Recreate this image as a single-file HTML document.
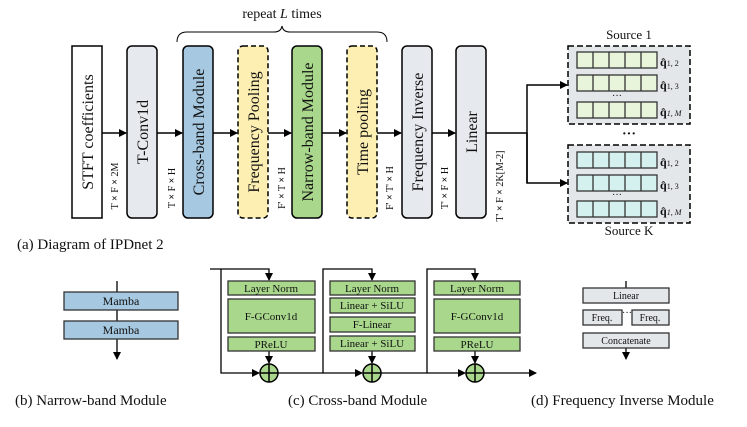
<!DOCTYPE html>
<html><head><meta charset="utf-8"><style>
html,body{margin:0;padding:0;background:#fff}
svg{display:block}
text{font-family:"Liberation Serif",serif;fill:#111}
</style></head><body>
<svg width="747" height="427" viewBox="0 0 747 427" xmlns="http://www.w3.org/2000/svg">
<defs>
<marker id="ah" markerWidth="8" markerHeight="8" refX="7" refY="4" orient="auto" markerUnits="userSpaceOnUse"><path d="M0,0 L8,4 L0,8 z" fill="#000"/></marker>
</defs>

<text x="282" y="18" font-size="14" text-anchor="middle">repeat <tspan font-style="italic">L</tspan> times</text>
<path d="M177,42 Q177,32 187,32 L274,32 Q281,32 282,26 Q283,32 290,32 L377,32 Q387,32 387,42" fill="none" stroke="#000" stroke-width="1"/>

<rect x="72" y="46" width="30" height="172" fill="#fff" stroke="#000" stroke-width="1.5"/>
<rect x="127" y="46" width="30" height="172" rx="5" fill="#e6e9ed" stroke="#000" stroke-width="1.5"/>
<rect x="183" y="46" width="30" height="172" rx="5" fill="#a6c8e0" stroke="#000" stroke-width="1.5"/>
<rect x="238" y="46" width="30" height="172" rx="5" fill="#fdefb2" stroke="#000" stroke-width="1.5" stroke-dasharray="5,3"/>
<rect x="292" y="46" width="30" height="172" rx="5" fill="#a9d88c" stroke="#000" stroke-width="1.5"/>
<rect x="347" y="46" width="30" height="172" rx="5" fill="#fdefb2" stroke="#000" stroke-width="1.5" stroke-dasharray="5,3"/>
<rect x="402" y="46" width="30" height="172" rx="5" fill="#e6e9ed" stroke="#000" stroke-width="1.5"/>
<rect x="456" y="46" width="30" height="172" rx="5" fill="#e6e9ed" stroke="#000" stroke-width="1.5"/>

<g font-size="16">
<text transform="translate(93,132) rotate(-90)" text-anchor="middle">STFT coefficients</text>
<text transform="translate(148,132) rotate(-90)" text-anchor="middle">T-Conv1d</text>
<text transform="translate(204,132) rotate(-90)" text-anchor="middle">Cross-band Module</text>
<text transform="translate(259,132) rotate(-90)" text-anchor="middle">Frequency Pooling</text>
<text transform="translate(313,132) rotate(-90)" text-anchor="middle">Narrow-band Module</text>
<text transform="translate(368,132) rotate(-90)" text-anchor="middle">Time pooling</text>
<text transform="translate(423,132) rotate(-90)" text-anchor="middle">Frequency Inverse</text>
<text transform="translate(477,132) rotate(-90)" text-anchor="middle">Linear</text>
</g>

<g stroke="#000" stroke-width="1.5" marker-end="url(#ah)">
<line x1="102" y1="133" x2="126" y2="133"/>
<line x1="157" y1="133" x2="182" y2="133"/>
<line x1="213" y1="133" x2="237" y2="133"/>
<line x1="268" y1="133" x2="291" y2="133"/>
<line x1="322" y1="133" x2="346" y2="133"/>
<line x1="377" y1="133" x2="401" y2="133"/>
<line x1="432" y1="133" x2="455" y2="133"/>
</g>
<g font-size="10">
<text transform="translate(118,186) rotate(-90)" text-anchor="middle">T <tspan font-weight="bold">×</tspan> F <tspan font-weight="bold">×</tspan> 2M</text>
<text transform="translate(175,188) rotate(-90)" text-anchor="middle">T <tspan font-weight="bold">×</tspan> F <tspan font-weight="bold">×</tspan> H</text>
<text transform="translate(285,188) rotate(-90)" text-anchor="middle">F' <tspan font-weight="bold">×</tspan> T <tspan font-weight="bold">×</tspan> H</text>
<text transform="translate(393,188) rotate(-90)" text-anchor="middle">F' <tspan font-weight="bold">×</tspan> T' <tspan font-weight="bold">×</tspan> H</text>
<text transform="translate(448,188) rotate(-90)" text-anchor="middle">T' <tspan font-weight="bold">×</tspan> F <tspan font-weight="bold">×</tspan> H</text>
<text transform="translate(503,186) rotate(-90)" text-anchor="middle">T' <tspan font-weight="bold">×</tspan> F <tspan font-weight="bold">×</tspan> 2K[M-2]</text>
</g>

<polyline points="486,133 527,133" fill="none" stroke="#000" stroke-width="1.5"/>
<polyline points="527,183 527,85 567,85" fill="none" stroke="#000" stroke-width="1.5" marker-end="url(#ah)"/>
<polyline points="527,133 527,183 567,183" fill="none" stroke="#000" stroke-width="1.5" marker-end="url(#ah)"/>

<text x="629" y="39" font-size="13" text-anchor="middle">Source 1</text>
<rect x="568" y="46" width="122" height="78" fill="#e4e7ea" stroke="#000" stroke-width="1.5" stroke-dasharray="6,3"/>
<g fill="#e9f5da" stroke="#333" stroke-width="1.3">
<rect x="577" y="52" width="80" height="16"/><rect x="577" y="75" width="80" height="16"/><rect x="577" y="102" width="80" height="16"/>
</g>
<g stroke="#333" stroke-width="1.3">
<path d="M593,52v16M609,52v16M625,52v16M641,52v16M593,75v16M609,75v16M625,75v16M641,75v16M593,102v16M609,102v16M625,102v16M641,102v16"/>
</g>
<text x="617" y="99" font-size="10" text-anchor="middle">···</text>
<g font-size="12" font-weight="bold"><text x="660" y="66">q̂<tspan font-size="8" font-weight="normal">1, 2</tspan></text><text x="660" y="89">q̂<tspan font-size="8" font-weight="normal">1, 3</tspan></text><text x="660" y="116">q̂<tspan font-size="8" font-weight="normal" font-style="italic">1, M</tspan></text></g>

<text x="629" y="138" font-size="14" text-anchor="middle" font-weight="bold">···</text>

<rect x="568" y="145" width="122" height="78" fill="#e4e7ea" stroke="#000" stroke-width="1.5" stroke-dasharray="6,3"/>
<g fill="#d5f1ef" stroke="#333" stroke-width="1.3">
<rect x="577" y="152" width="80" height="16"/><rect x="577" y="175" width="80" height="16"/><rect x="577" y="201" width="80" height="16"/>
</g>
<g stroke="#333" stroke-width="1.3">
<path d="M593,152v16M609,152v16M625,152v16M641,152v16M593,175v16M609,175v16M625,175v16M641,175v16M593,201v16M609,201v16M625,201v16M641,201v16"/>
</g>
<text x="617" y="198" font-size="10" text-anchor="middle">···</text>
<g font-size="12" font-weight="bold"><text x="660" y="166">q̂<tspan font-size="8" font-weight="normal">1, 2</tspan></text><text x="660" y="189">q̂<tspan font-size="8" font-weight="normal">1, 3</tspan></text><text x="660" y="215">q̂<tspan font-size="8" font-weight="normal" font-style="italic">1, M</tspan></text></g>
<text x="629" y="235" font-size="13" text-anchor="middle">Source K</text>

<text x="17" y="249" font-size="15">(a) Diagram of IPDnet 2</text>

<line x1="117" y1="281" x2="117" y2="359" stroke="#000" stroke-width="1.3" marker-end="url(#ah)"/>
<rect x="64" y="292" width="114" height="18" fill="#a6c8e0" stroke="#333" stroke-width="1.3"/>
<rect x="64" y="321" width="114" height="18" fill="#a6c8e0" stroke="#333" stroke-width="1.3"/>
<text x="121" y="305" font-size="12" text-anchor="middle">Mamba</text>
<text x="121" y="334" font-size="12" text-anchor="middle">Mamba</text>
<text x="15" y="405" font-size="15">(b) Narrow-band Module</text>

<g stroke="#000" stroke-width="1.3" fill="none">
<polyline points="210,269 269,269 269,280" marker-end="url(#ah)"/>
<polyline points="221,269 221,373 259,373" marker-end="url(#ah)"/>
<line x1="269" y1="351" x2="269" y2="363" marker-end="url(#ah)"/>
<polyline points="278,373 323,373 323,269 372,269 372,280" marker-end="url(#ah)"/>
<line x1="323" y1="373" x2="362" y2="373" marker-end="url(#ah)"/>
<line x1="372" y1="351" x2="372" y2="363" marker-end="url(#ah)"/>
<polyline points="381,373 427,373 427,269 475,269 475,280" marker-end="url(#ah)"/>
<line x1="427" y1="373" x2="465" y2="373" marker-end="url(#ah)"/>
<line x1="475" y1="351" x2="475" y2="363" marker-end="url(#ah)"/>
<line x1="484" y1="373" x2="536" y2="373" marker-end="url(#ah)"/>
</g>
<g fill="#a9d88c" stroke="#333" stroke-width="1.3">
<rect x="228" y="281" width="87" height="14"/><rect x="228" y="299" width="87" height="34"/><rect x="228" y="337" width="87" height="14"/>
<rect x="330" y="281" width="85" height="14"/><rect x="330" y="298" width="85" height="15"/><rect x="330" y="317" width="85" height="15"/><rect x="330" y="336" width="85" height="15"/>
<rect x="434" y="281" width="86" height="14"/><rect x="434" y="299" width="86" height="34"/><rect x="434" y="337" width="86" height="14"/>
</g>
<g font-size="11" text-anchor="middle">
<text x="271" y="292">Layer Norm</text><text x="271" y="320">F-GConv1d</text><text x="271" y="348">PReLU</text>
<text x="372" y="292">Layer Norm</text><text x="372" y="309">Linear + SiLU</text><text x="372" y="328">F-Linear</text><text x="372" y="347">Linear + SiLU</text>
<text x="477" y="292">Layer Norm</text><text x="477" y="320">F-GConv1d</text><text x="477" y="348">PReLU</text>
</g>
<g fill="#a9d88c" stroke="#000" stroke-width="1.5">
<circle cx="269" cy="373" r="9"/><circle cx="372" cy="373" r="9"/><circle cx="475" cy="373" r="9"/>
</g>
<g stroke="#000" stroke-width="1.5">
<path d="M260,373h18M269,364v18M363,373h18M372,364v18M466,373h18M475,364v18"/>
</g>
<text x="288" y="405" font-size="15">(c) Cross-band Module</text>

<line x1="626" y1="281" x2="626" y2="288" stroke="#000" stroke-width="1.3"/>
<line x1="626" y1="348" x2="626" y2="359" stroke="#000" stroke-width="1.3" marker-end="url(#ah)"/>
<g fill="#e4e7ea" stroke="#333" stroke-width="1.3">
<rect x="583" y="288" width="86" height="15"/>
<rect x="583" y="310" width="39" height="15"/><rect x="632" y="310" width="37" height="15"/>
<rect x="583" y="333" width="86" height="15"/>
</g>
<g font-size="10" text-anchor="middle">
<text x="626" y="299">Linear</text><text x="602" y="321">Freq.</text><text x="650" y="321">Freq.</text><text x="627" y="316">···</text><text x="626" y="344">Concatenate</text>
</g>
<text x="531" y="405" font-size="15">(d) Frequency Inverse Module</text>
</svg>
</body></html>
